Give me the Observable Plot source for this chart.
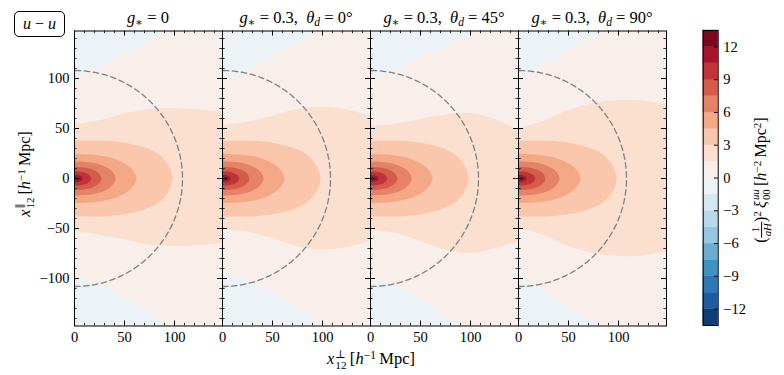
<!DOCTYPE html>
<html>
<head>
<meta charset="utf-8">
<script src="https://cdn.jsdelivr.net/npm/d3@7"></script>
<script src="https://cdn.jsdelivr.net/npm/@observablehq/plot@0.6"></script>
<style>
html,body{margin:0;padding:0;background:#fff;}
#wrap{position:relative;width:784px;height:375px;overflow:hidden;font-family:"Liberation Serif","DejaVu Serif",serif;color:#000;}
#wrap > svg{position:absolute;top:0;}
.lbl{position:absolute;white-space:nowrap;line-height:1;font-size:16px;}
.ctr{transform:translateX(-50%);}
.rot{transform:translate(-50%,-50%) rotate(-90deg);}
sub{font-size:0.7em;vertical-align:-0.3em;line-height:0;}
sup{font-size:0.7em;vertical-align:0.45em;line-height:0;}
.ss{display:inline-block;font-size:0.68em;line-height:0.95;vertical-align:-0.38em;margin-left:1px;}
.ss > span{display:block;}
.frac{display:inline-block;font-size:0.68em;line-height:1.05;vertical-align:-0.55em;text-align:center;}
.frac > span{display:block;padding:0 1px;}
.frac > span:first-child{border-bottom:0.8px solid #000;}
.box{position:absolute;left:14px;top:10.5px;width:49px;height:24px;border:1.3px solid #000;border-radius:5px;font-size:16px;line-height:24px;text-align:center;white-space:nowrap;}
</style>
</head>
<body>
<div id="wrap"></div>
<script>
// ---------------- data ----------------
const panels = ["g0", "t0", "t45", "t90"];
const panelTitles = [
  "<i>g</i><sub>∗</sub> = 0",
  "<i>g</i><sub>∗</sub> = 0.3,&nbsp; <i>θ</i><sub><i>d</i></sub> = 0°",
  "<i>g</i><sub>∗</sub> = 0.3,&nbsp; <i>θ</i><sub><i>d</i></sub> = 45°",
  "<i>g</i><sub>∗</sub> = 0.3,&nbsp; <i>θ</i><sub><i>d</i></sub> = 90°"
];
const levels = [-13.5,-12,-10.5,-9,-7.5,-6,-4.5,-3,-1.5,0,1.5,3,4.5,6,7.5,9,10.5,12,13.5];
const cbTicks = [-12,-9,-6,-3,0,3,6,9,12];
const xMajor = [0,50,100];
const xMinor = [10,20,30,40,60,70,80,90,110,120,130,140];
const yMajor = [-100,-50,0,50,100];
const yMinor = [-140,-130,-120,-110,-90,-80,-70,-60,-40,-30,-20,-10,10,20,30,40,60,70,80,90,110,120,130,140];
const circleRadius = 108;

// level 0 boundary (blue corners), rows: [panel, x, y]
const blueTop = [
  ["g0",0,98.3],["g0",26,111.6],["g0",59,128.3],["g0",86,143],["g0",94,147.5],
  ["t0",0,96.6],["t0",25,106],["t0",48,120],["t0",75,135],["t0",98,147.5],
  ["t45",0,98.3],["t45",25,108],["t45",49,120],["t45",83,135],["t45",106,147.5],
  ["t90",0,100],["t90",33,116.7],["t90",63,135],["t90",83,147.5]
];
const blueBottom = [
  ["g0",0,-98.4],["g0",26,-106.7],["g0",59,-123.3],["g0",79,-136.7],["g0",96,-147.5],
  ["t0",0,-95],["t0",32,-105],["t0",65,-122],["t0",100,-147.5],
  ["t45",0,-98.4],["t45",33,-110],["t45",66,-130],["t45",88,-147.5],
  ["t90",0,-100],["t90",33,-117],["t90",63,-135],["t90",83,-147.5]
];
// level 1.5 boundary, rows: [panel, x, lower y, upper y]
const level15 = [
  ["g0",0,-53,54],["g0",25,-56.5,57.8],["g0",50,-61.5,64.5],["g0",75,-66.5,69],["g0",100,-68,70],["g0",125,-67,68.5],["g0",148,-65,66.7],
  ["t0",0,-52,53],["t0",25,-53.5,56.5],["t0",50,-60,62.5],["t0",75,-68,69],["t0",100,-71.5,71.5],["t0",125,-69,68.5],["t0",148,-63,62],
  ["t45",0,-52,52],["t45",25,-55,54.5],["t45",50,-63,59],["t45",75,-71.5,63.5],["t45",100,-75,65],["t45",125,-70,59],["t45",148,-63,48],
  ["t90",0,-50,50],["t90",25,-57,57],["t90",50,-68,68],["t90",75,-75,75],["t90",100,-78,78],["t90",125,-77.5,77.5],["t90",148,-73,73]
];
// closed inner contours (same in every panel), [level, [[x,y],...]]
const innerContours = [
  [3,   [[0,-38],[36,-37.5],[63,-33],[83,-25],[94,-13],[98,0],[94,13],[83,25],[63,33],[36,37.5],[0,38]]],
  [4.5, [[0,-24.5],[21.7,-23.5],[40.3,-19.6],[52.7,-13.5],[59.5,-6.6],[62,0],[59.5,6.6],[52.7,13.5],[40.3,19.6],[21.7,23.5],[0,24.5]]],
  [6,   [[0,-17],[14.4,-16.3],[26.7,-13.6],[34.9,-9.4],[39.4,-4.6],[41,0],[39.4,4.6],[34.9,9.4],[26.7,13.6],[14.4,16.3],[0,17]]],
  [7.5, [[0,-11.5],[9.5,-11],[17.5,-9.2],[23,-6.3],[26,-3.1],[27,0],[26,3.1],[23,6.3],[17.5,9.2],[9.5,11],[0,11.5]]],
  [9,   [[0,-7],[5.8,-6.7],[10.9,-5.6],[14.2,-3.9],[16,-1.9],[16.7,0],[16,1.9],[14.2,3.9],[10.9,5.6],[5.8,6.7],[0,7]]],
  [10.5,[[0,-3.5],[2.8,-3.4],[5.2,-2.8],[6.8,-1.9],[7.7,-0.95],[8,0],[7.7,0.95],[6.8,1.9],[5.2,2.8],[2.8,3.4],[0,3.5]]]
];

// ---------------- colours (RdBu_r) ----------------
const rdbuR = ["#053061","#2166ac","#4393c3","#92c5de","#d1e5f0","#f7f7f7","#fddbc7","#f4a582","#d6604d","#b2182b","#67001f"];
const interp = d3.piecewise(d3.interpolateRgb, rdbuR);
const nb = levels.length - 1;
const bandColors = d3.range(nb).map(i => d3.color(interp((i + 0.5) / nb)).formatHex());
const bandColor = v => bandColors[Math.max(0, Math.min(nb - 1, d3.bisectRight(levels, v) - 1))];
const colorOpts = {type: "threshold", domain: levels.slice(1, -1), range: bandColors};
const styleOpts = {fontFamily: "'Liberation Serif','DejaVu Serif',serif", fontSize: "14.5px", color: "#000", background: "transparent", overflow: "visible"};

// ---------------- tables for marks ----------------
const blueTopRows = blueTop.map(([panel, x, y]) => ({panel, x, y}));
const blueBottomRows = blueBottom.map(([panel, x, y]) => ({panel, x, y}));
const l15Rows = level15.map(([panel, x, lo, hi]) => ({panel, x, lo, hi}));
const innerRows = panels.flatMap(panel => innerContours.flatMap(([level, pts]) =>
  pts.map(([x, y]) => ({panel, level, x, y}))));
const arc = d3.range(-90, 90.5, 1).map(a => ({x: circleRadius * Math.cos(a * Math.PI / 180), y: circleRadius * Math.sin(a * Math.PI / 180)}));

const xDom = [0, 148], yDom = [-147.5, 147.5];
const maj = 5, mnr = 2.6;

const main = Plot.plot({
  width: 784, height: 375,
  marginLeft: 74, marginRight: 118, marginTop: 30.5, marginBottom: 49.5,
  fx: {domain: panels, padding: 0, axis: null},
  x: {domain: xDom, axis: null},
  y: {domain: yDom, axis: null},
  color: colorOpts,
  style: styleOpts,
  marks: [
    Plot.frame({fill: bandColor(0.75), stroke: "none"}),
    Plot.areaY(blueTopRows, {fx: "panel", x: "x", y1: "y", y2: () => yDom[1], fill: bandColor(-0.75), curve: "monotone-x", clip: true}),
    Plot.areaY(blueBottomRows, {fx: "panel", x: "x", y1: () => yDom[0], y2: "y", fill: bandColor(-0.75), curve: "monotone-x", clip: true}),
    Plot.areaY(l15Rows, {fx: "panel", x: "x", y1: "lo", y2: "hi", fill: bandColor(2.25), curve: "catmull-rom", clip: true}),
    Plot.line(innerRows, {fx: "panel", x: "x", y: "y", z: "level", fill: d => d.level + 0.75, stroke: "none", curve: "catmull-rom", clip: true}),
    Plot.line(arc, {x: "x", y: "y", stroke: "#808080", strokeWidth: 1.3, strokeDasharray: "5.5,3.5", clip: true}),
    // inward ticks on all four sides
    Plot.ruleX(xMajor, {x: d => d, y1: () => yDom[0], y2: () => yDom[0] + maj, stroke: "#000", strokeWidth: 1}),
    Plot.ruleX(xMajor, {x: d => d, y1: () => yDom[1] - maj, y2: () => yDom[1], stroke: "#000", strokeWidth: 1}),
    Plot.ruleX(xMinor, {x: d => d, y1: () => yDom[0], y2: () => yDom[0] + mnr, stroke: "#000", strokeWidth: 0.8}),
    Plot.ruleX(xMinor, {x: d => d, y1: () => yDom[1] - mnr, y2: () => yDom[1], stroke: "#000", strokeWidth: 0.8}),
    Plot.ruleY(yMajor, {y: d => d, x1: () => xDom[0], x2: () => xDom[0] + maj, stroke: "#000", strokeWidth: 1}),
    Plot.ruleY(yMajor, {y: d => d, x1: () => xDom[1] - maj, x2: () => xDom[1], stroke: "#000", strokeWidth: 1}),
    Plot.ruleY(yMinor, {y: d => d, x1: () => xDom[0], x2: () => xDom[0] + mnr, stroke: "#000", strokeWidth: 0.8}),
    Plot.ruleY(yMinor, {y: d => d, x1: () => xDom[1] - mnr, x2: () => xDom[1], stroke: "#000", strokeWidth: 0.8}),
    Plot.frame({stroke: "#000", strokeWidth: 1}),
    Plot.axisX(xMajor, {anchor: "bottom", tickSize: 0, tickPadding: 6, label: null}),
    Plot.axisY(yMajor, {anchor: "left", tickSize: 0, tickPadding: 5, label: null})
  ]
});

const bands = d3.pairs(levels).map(([lo, hi]) => ({lo, hi}));
const cb = Plot.plot({
  width: 60, height: 375,
  marginLeft: 12.7, marginRight: 32.3, marginTop: 30, marginBottom: 50,
  x: {domain: [0, 1], axis: null},
  y: {domain: [levels[0], levels[levels.length - 1]], axis: null},
  color: colorOpts,
  style: styleOpts,
  marks: [
    Plot.rect(bands, {x1: () => 0, x2: () => 1, y1: "lo", y2: "hi", fill: d => (d.lo + d.hi) / 2, stroke: d => (d.lo + d.hi) / 2, strokeWidth: 0.4}),
    Plot.ruleY(cbTicks, {y: d => d, x1: () => 0.75, x2: () => 1, stroke: "#000", strokeWidth: 1}),
    Plot.frame({stroke: "#000", strokeWidth: 1}),
    Plot.axisY(cbTicks, {anchor: "right", tickSize: 0, tickPadding: 5, label: null})
  ]
});

const wrap = document.getElementById("wrap");
main.style.left = "0px";
cb.style.left = "690px";
wrap.appendChild(main);
wrap.appendChild(cb);

// ---------------- text labels ----------------
function addLabel(html, css, cls) {
  const d = document.createElement("div");
  d.className = "lbl " + (cls || "");
  d.innerHTML = html;
  Object.assign(d.style, css);
  wrap.appendChild(d);
  return d;
}
const panelCenters = [148, 296, 444, 592];
panelTitles.forEach((t, i) => addLabel(t, {left: panelCenters[i] + "px", top: "10px", fontSize: "16.5px"}, "ctr"));
addLabel("<i>x</i><span class='ss'><span>⊥</span><span>12</span></span>&thinsp;[<i>h</i><sup>−1</sup>&thinsp;Mpc]", {left: "371px", top: "349px", fontSize: "16.5px"}, "ctr");
addLabel("<i>x</i><span class='ss'><span>∥</span><span>12</span></span>&thinsp;[<i>h</i><sup>−1</sup>&thinsp;Mpc]", {left: "25px", top: "174px"}, "rot");
addLabel("(<span class='frac'><span>1</span><span><i>aH</i></span></span>)<sup>2</sup>&thinsp;<i>ξ</i><span class='ss'><span><i>uu</i></span><span>00</span></span>&thinsp;[<i>h</i><sup>−2</sup>&thinsp;Mpc<sup>2</sup>]", {left: "762px", top: "180px"}, "rot");
const box = document.createElement("div");
box.className = "box";
box.innerHTML = "<i>u</i> − <i>u</i>";
wrap.appendChild(box);
</script>
</body>
</html>
